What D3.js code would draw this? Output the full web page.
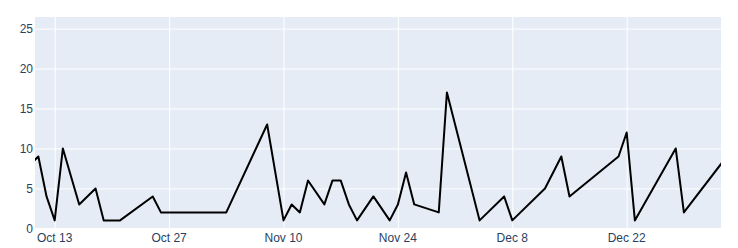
<html>
  <head>
    <style>
    body {
      margin: 0;
      background: #fff;
    }
    text {
      font-family: "Liberation Sans", Arial, sans-serif;
      font-size: 12px;
      fill: #2a3f5f;
    }
    </style>
  </head>
  <body>
    <script src="https://d3js.org/d3.v7.min.js"></script>
    <script>
    // daily counts (first and last points sit just outside the visible range)
    var dates = [
      "2019-10-10", "2019-10-11", "2019-10-12", "2019-10-13", "2019-10-14", "2019-10-16",
      "2019-10-18", "2019-10-19", "2019-10-21", "2019-10-25", "2019-10-26", "2019-11-03",
      "2019-11-08", "2019-11-10", "2019-11-11", "2019-11-12", "2019-11-13", "2019-11-15",
      "2019-11-16", "2019-11-17", "2019-11-18", "2019-11-19", "2019-11-21", "2019-11-23",
      "2019-11-24", "2019-11-25", "2019-11-26", "2019-11-29", "2019-11-30", "2019-12-04",
      "2019-12-07", "2019-12-08", "2019-12-12", "2019-12-14", "2019-12-15", "2019-12-21",
      "2019-12-22", "2019-12-23", "2019-12-28", "2019-12-29", "2020-01-04"
    ];
    var values = [
      8, 9, 4, 1, 10, 3,
      5, 1, 1, 4, 2, 2,
      13, 1, 3, 2, 6, 3,
      6, 6, 3, 1, 4, 1,
      3, 7, 3, 2, 17, 1,
      4, 1, 5, 9, 4, 9,
      12, 1, 10, 2, 10
    ];
    var xTicks = ["2019-10-13", "2019-10-27", "2019-11-10", "2019-11-24", "2019-12-08", "2019-12-22"];
    var yTicks = [0, 5, 10, 15, 20, 25];
    var xRange = ["2019-10-10T14:10", "2020-01-02T13:00"];
    var yRange = [-0.2, 26.45];

    var width = 738,
      height = 248,
      margin = {top: 17, right: 17, bottom: 18, left: 35};

    var parse = function(s){ return new Date(s.length > 10 ? s : s + "T00:00"); };
    var fmt = d3.timeFormat("%b %-d");

    var data = dates.map(function(d, i){ return {date: parse(d), value: values[i]}; });

    var svg = d3.select("body").append("svg")
        .attr("width", width)
        .attr("height", height);

    var x = d3.scaleTime()
        .domain(xRange.map(parse))
        .range([margin.left, width - margin.right]);

    var y = d3.scaleLinear()
        .domain(yRange)
        .range([height - margin.bottom, margin.top]);

    svg.append("defs").append("clipPath").attr("id", "plot")
      .append("rect")
        .attr("x", margin.left)
        .attr("y", margin.top)
        .attr("width", width - margin.left - margin.right)
        .attr("height", height - margin.top - margin.bottom);

    // background
    svg.append("rect")
        .attr("x", margin.left)
        .attr("y", margin.top)
        .attr("width", width - margin.left - margin.right)
        .attr("height", height - margin.top - margin.bottom)
        .attr("fill", "#E5ECF6");

    // grid
    svg.append("g")
        .attr("transform", "translate(0," + (height - margin.bottom) + ")")
        .call(d3.axisBottom(x)
          .tickValues(xTicks.map(parse))
          .tickSize(-(height - margin.top - margin.bottom))
          .tickFormat(""))
        .call(function(g){ g.select(".domain").remove(); })
        .selectAll("line").attr("stroke", "#fff").attr("stroke-width", 1);

    svg.append("g")
        .attr("transform", "translate(" + margin.left + ",0)")
        .call(d3.axisLeft(y)
          .tickValues(yTicks)
          .tickSize(-(width - margin.left - margin.right))
          .tickFormat(""))
        .call(function(g){ g.select(".domain").remove(); })
        .selectAll("line")
          .attr("stroke", "#fff")
          .attr("stroke-width", function(d){ return d === 0 ? 2 : 1; });

    // tick labels
    svg.append("g").selectAll("text")
      .data(xTicks.map(parse))
      .enter().append("text")
        .attr("x", function(d){ return x(d); })
        .attr("y", 242)
        .attr("text-anchor", "middle")
        .text(fmt);

    svg.append("g").selectAll("text")
      .data(yTicks)
      .enter().append("text")
        .attr("x", 33)
        .attr("y", function(d){ return y(d); })
        .attr("dy", "0.35em")
        .attr("text-anchor", "end")
        .text(function(d){ return d; });

    // line
    var line = d3.line()
        .x(function(d){ return x(d.date); })
        .y(function(d){ return y(d.value); });

    svg.append("path")
        .datum(data)
        .attr("clip-path", "url(#plot)")
        .attr("fill", "none")
        .attr("stroke", "#000")
        .attr("stroke-width", 2)
        .attr("stroke-linejoin", "round")
        .attr("d", line);
    </script>
  </body>
</html>
